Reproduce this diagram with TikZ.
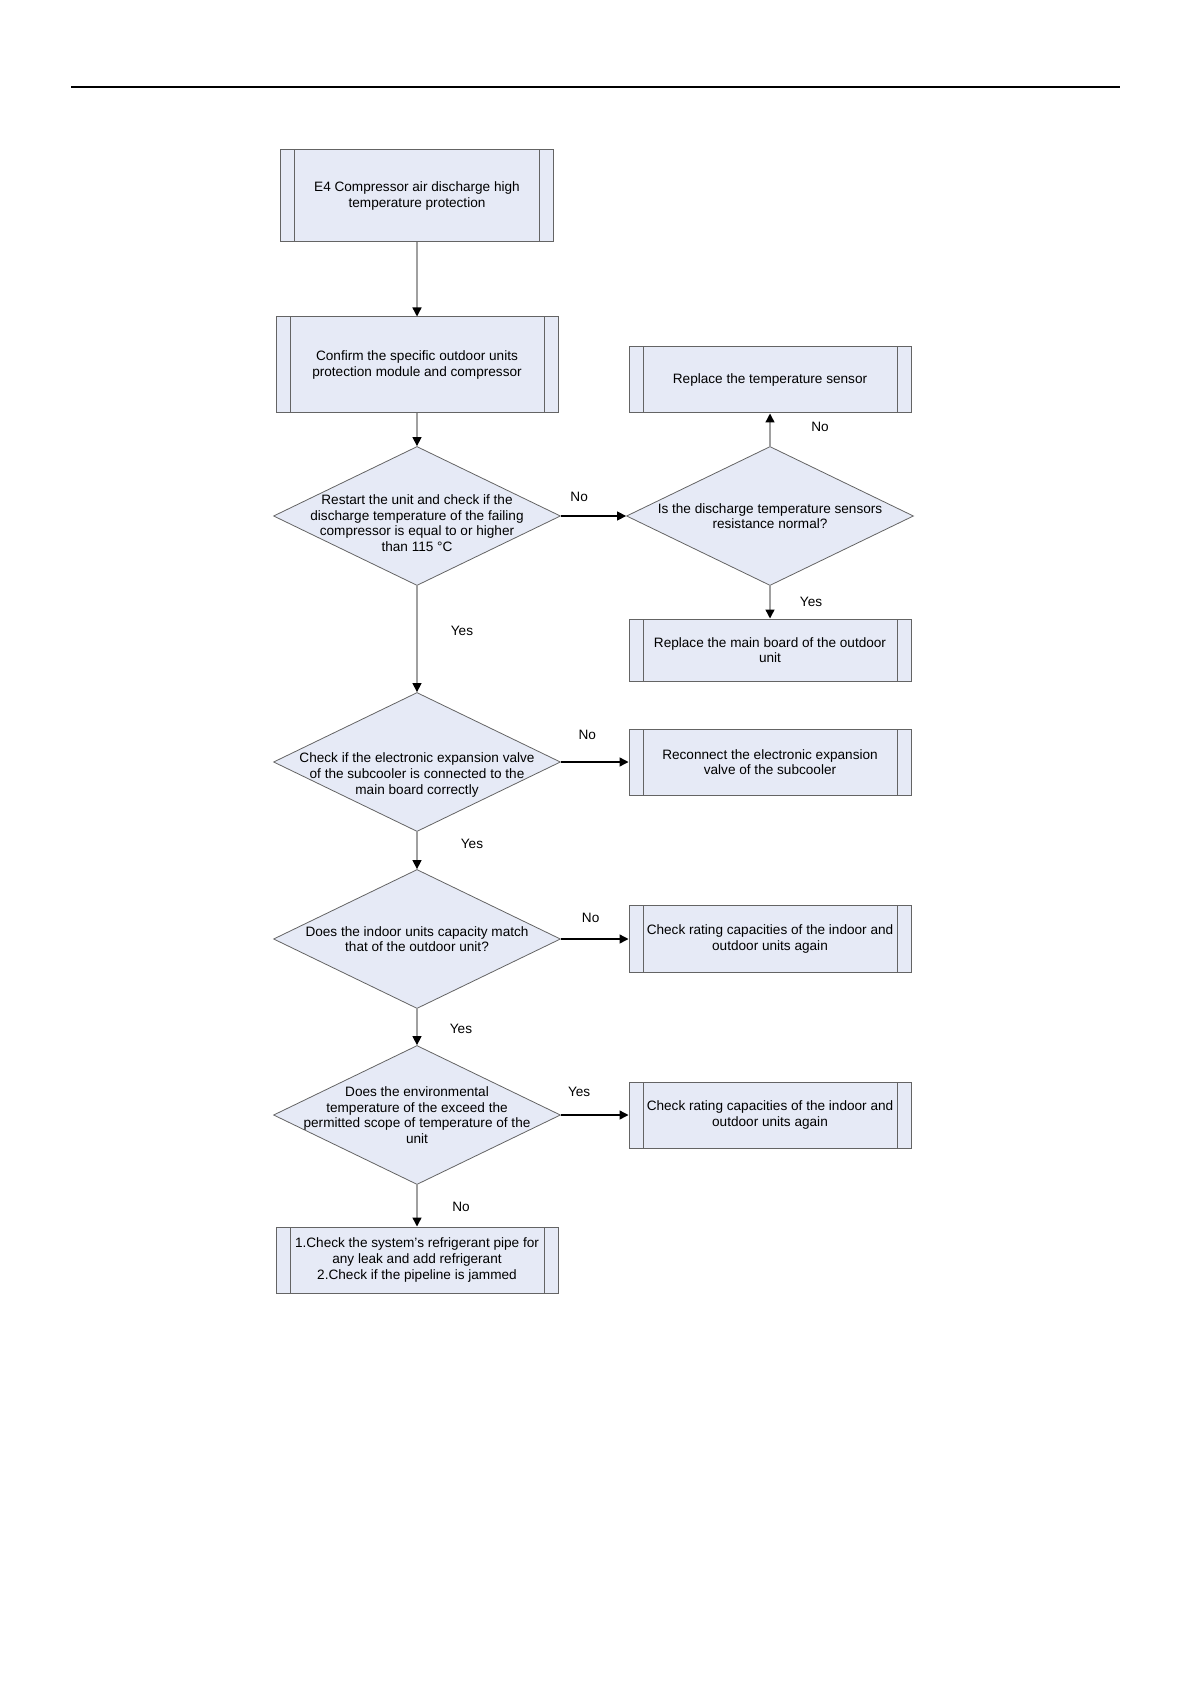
\documentclass[tikz,border=0pt]{standalone}
\usepackage{fontspec}
\setmainfont{Liberation Sans}
\usetikzlibrary{shapes.geometric,arrows.meta}
\definecolor{boxfill}{RGB}{230,234,246}
\definecolor{boxline}{RGB}{100,100,100}
\definecolor{vline}{RGB}{160,160,160}
\tikzset{
  procbox/.style={rectangle,draw=boxline,fill=boxfill,line width=0.5pt,minimum width=141pt,inner sep=0pt,align=center,
    path picture={\draw[boxline,line width=0.5pt]
      ([xshift=7pt]path picture bounding box.north west) -- ([xshift=7pt]path picture bounding box.south west)
      ([xshift=-7pt]path picture bounding box.north east) -- ([xshift=-7pt]path picture bounding box.south east);}},
  decision/.style={diamond,draw=boxline,fill=boxfill,line width=0.4pt,minimum width=143.5pt,minimum height=69.5pt,inner sep=0pt},
  dtext/.style={align=center,inner sep=0pt},
  lbl/.style={inner sep=0pt},
  down/.style={draw=vline,line width=0.7pt,-{Triangle[length=4.5pt,width=4.5pt,color=black]}},
  side/.style={draw=black,line width=0.7pt,-{Triangle[length=4.5pt,width=4.5pt,color=black]}}
}
\begin{document}
\begin{tikzpicture}[x=0.5pt,y=-0.5pt,every node/.style={font=\fontsize{6.8pt}{7.8pt}\selectfont}]
  \useasboundingbox (0,0) rectangle (1191,1684);
  \draw[line width=1pt] (71,87) -- (1120,87);

  \node[procbox,minimum width=136.5pt,minimum height=46pt] (e4) at (417,196)
    {E4 Compressor air discharge high\\temperature protection};
  \node[procbox,minimum height=48pt] (confirm) at (417,365)
    {Confirm the specific outdoor units\\protection module and compressor};

  \node[decision] (restart) at (417,516) {};
  \node[dtext,yshift=-3.5pt] at (restart)
    {Restart the unit and check if the\\discharge temperature of the failing\\compressor is equal to or higher\\than 115 °C};
  \node[decision] (sensorok) at (770,516) {};
  \node[dtext] at (sensorok) {Is the discharge temperature sensors\\resistance normal?};
  \node[procbox,minimum height=33pt] (sensor) at (770,380) {Replace the temperature sensor};
  \node[procbox,minimum height=31pt] (board) at (770,650) {Replace the main board of the outdoor\\unit};

  \node[decision] (valve) at (417,762) {};
  \node[dtext,yshift=-6.5pt] at (valve)
    {Check if the electronic expansion valve\\of the subcooler is connected to the\\main board correctly};
  \node[procbox,minimum height=33pt] (reconnect) at (770,762)
    {Reconnect the electronic expansion\\valve of the subcooler};

  \node[decision] (match) at (417,939) {};
  \node[dtext] at (match) {Does the indoor units capacity match\\that of the outdoor unit?};
  \node[procbox,minimum height=33.5pt] (rating) at (770,939)
    {Check rating capacities of the indoor and\\outdoor units again};

  \node[decision] (envtemp) at (417,1115) {};
  \node[dtext] at (envtemp)
    {Does the environmental\\temperature of the exceed the\\permitted scope of temperature of the\\unit};
  \node[procbox,minimum height=33pt] (ratingb) at (770,1115)
    {Check rating capacities of the indoor and\\outdoor units again};

  \node[procbox,minimum height=33pt] (pipe) at (417,1260)
    {1.Check the system's refrigerant pipe for\\any leak and add refrigerant\\2.Check if the pipeline is jammed};

  \draw[down] (e4) -- (confirm);
  \draw[down] (confirm) -- (restart);
  \draw[side] (restart) -- node[lbl,pos=0.28,yshift=9.5pt] {No} (sensorok);
  \draw[down] (sensorok) -- node[lbl,pos=0.58,xshift=25pt] {No} (sensor);
  \draw[down] (sensorok) -- node[lbl,pos=0.5,xshift=20.5pt] {Yes} (board);
  \draw[down] (restart) -- node[lbl,pos=0.42,xshift=22.5pt] {Yes} (valve);
  \draw[side] (valve) -- node[lbl,pos=0.39,yshift=13.5pt] {No} (reconnect);
  \draw[down] (valve) -- node[lbl,pos=0.32,xshift=27.5pt] {Yes} (match);
  \draw[side] (match) -- node[lbl,pos=0.44,yshift=10.5pt] {No} (rating);
  \draw[down] (match) -- node[lbl,pos=0.54,xshift=22pt] {Yes} (envtemp);
  \draw[side] (envtemp) -- node[lbl,pos=0.27,yshift=11.5pt] {Yes} (ratingb);
  \draw[down] (envtemp) -- node[lbl,pos=0.52,xshift=22pt] {No} (pipe);
\end{tikzpicture}
\end{document}
